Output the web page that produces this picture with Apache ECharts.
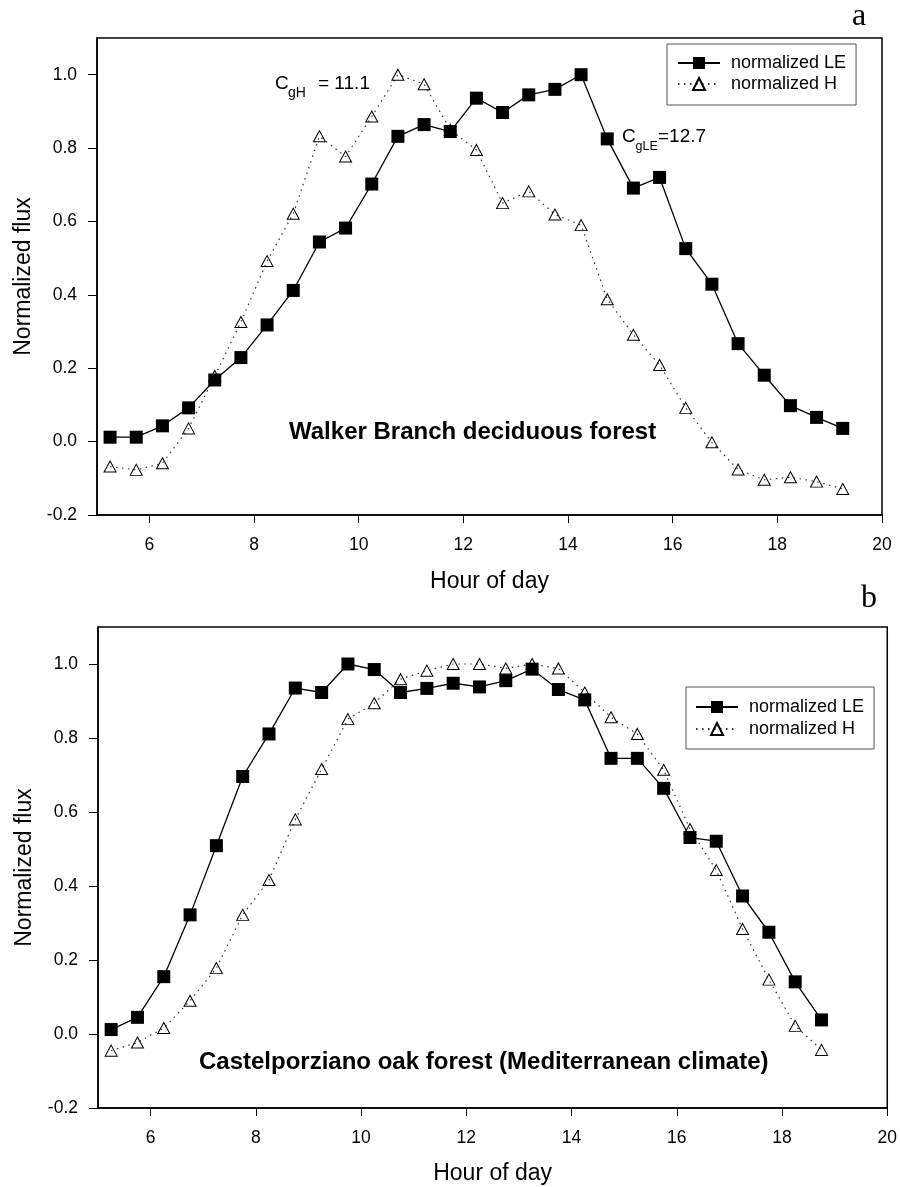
<!DOCTYPE html>
<html>
<head>
<meta charset="utf-8">
<script src="https://cdn.jsdelivr.net/npm/echarts@6/dist/echarts.min.js"></script>
<style>
html,body{margin:0;padding:0;background:#fff;}
#chart{width:900px;height:1187px;}
</style>
</head>
<body>
<div id="chart"></div>
<script>
// Panel a: Walker Branch deciduous forest
const hoursA = [5.25,5.75,6.25,6.75,7.25,7.75,8.25,8.75,9.25,9.75,10.25,10.75,11.25,11.75,12.25,12.75,13.25,13.75,14.25,14.75,15.25,15.75,16.25,16.75,17.25,17.75,18.25,18.75,19.25];
const leA = [0.012,0.012,0.043,0.092,0.168,0.229,0.318,0.412,0.544,0.582,0.702,0.832,0.864,0.845,0.936,0.897,0.945,0.960,1.0,0.825,0.691,0.720,0.526,0.429,0.267,0.181,0.098,0.066,0.036];
const hA = [-0.068,-0.077,-0.059,0.036,0.179,0.326,0.492,0.621,0.832,0.777,0.886,1.0,0.974,0.85,0.795,0.650,0.682,0.619,0.590,0.388,0.291,0.209,0.092,-0.002,-0.076,-0.104,-0.097,-0.109,-0.129];

// Panel b: Castelporziano oak forest
const hoursB = [5.25,5.75,6.25,6.75,7.25,7.75,8.25,8.75,9.25,9.75,10.25,10.75,11.25,11.75,12.25,12.75,13.25,13.75,14.25,14.75,15.25,15.75,16.25,16.75,17.25,17.75,18.25,18.75];
const leB = [0.012,0.045,0.155,0.322,0.509,0.696,0.811,0.935,0.923,1.0,0.985,0.923,0.934,0.948,0.938,0.955,0.986,0.931,0.903,0.745,0.745,0.664,0.531,0.521,0.373,0.275,0.141,0.038];
const hB = [-0.045,-0.023,0.016,0.090,0.178,0.322,0.416,0.580,0.716,0.851,0.894,0.959,0.982,1.0,1.0,0.988,1.0,0.988,0.923,0.856,0.811,0.714,0.554,0.443,0.284,0.147,0.022,-0.043];

const xTicks = [6,8,10,12,14,16,18,20];
const yTicks = [-0.2,0.0,0.2,0.4,0.6,0.8,1.0];
const nameLE = 'normalized LE';
const nameH = 'normalized H';
const xName = 'Hour of day';
const yName = 'Normalized flux';

const SANS = '"Liberation Sans", Arial, Helvetica, sans-serif';
const SERIF = '"Liberation Serif", "Times New Roman", serif';

function pairs(xs, ys){ return xs.map((x,i)=>[x, ys[i]]); }

function xAxis(gi, gap){
  return {
    gridIndex: gi, type:'value', min:5, max:20,
    name: xName, nameLocation:'middle', nameGap: gap,
    nameTextStyle:{fontSize:23, color:'#000', fontFamily:SANS},
    axisLine:{show:true, onZero:false, lineStyle:{color:'#000', width:1.5}},
    axisTick:{show:true, inside:false, length:8, customValues:xTicks, lineStyle:{color:'#000', width:1}},
    axisLabel:{customValues:xTicks, margin:21, fontSize:17.5, color:'#000', fontFamily:SANS},
    splitLine:{show:false}
  };
}
function yAxis(gi){
  return {
    gridIndex: gi, type:'value', min:-0.2, max:1.1,
    name: yName, nameLocation:'middle', nameGap: 62,
    nameTextStyle:{fontSize:23, color:'#000', fontFamily:SANS},
    axisLine:{show:true, onZero:false, lineStyle:{color:'#000', width:1.5}},
    axisTick:{show:true, inside:false, length:9, customValues:yTicks, lineStyle:{color:'#000', width:1}},
    axisLabel:{customValues:yTicks, margin:20, fontSize:17.5, color:'#000', fontFamily:SANS,
      formatter:(v)=>Number(v).toFixed(1)},
    splitLine:{show:false}
  };
}
function leSeries(gi, xs, ys){
  return {
    name: nameLE, type:'line', xAxisIndex:gi, yAxisIndex:gi, z:4,
    data: pairs(xs, ys), symbol:'rect', symbolSize:13,
    itemStyle:{color:'#000'}, lineStyle:{color:'#000', width:1.3},
    emphasis:{disabled:true}
  };
}
function hSeries(gi, xs, ys){
  return {
    name: nameH, type:'line', xAxisIndex:gi, yAxisIndex:gi, z:3,
    data: pairs(xs, ys), symbol:'triangle', symbolSize:[12,11],
    itemStyle:{color:'rgba(0,0,0,0)', borderColor:'#000', borderWidth:1},
    lineStyle:{color:'#333', width:1.2, type:[1.5,4.5]},
    emphasis:{disabled:true}
  };
}
function legend(left, top, padding, gap){
  return {
    orient:'vertical', left:left, top:top, data:[nameLE, nameH],
    itemWidth:42, itemHeight:15, itemGap:gap, padding:padding,
    borderColor:'#555', borderWidth:1, backgroundColor:'#fff',
    selectedMode:false,
    textStyle:{fontSize:18, color:'#000', fontFamily:SANS, padding:[0,0,0,6]}
  };
}
function txt(x, y, s, size, opts){
  return Object.assign({type:'text', x:x, y:y, z:100, style:Object.assign({
    text:s, fontSize:size, fontFamily:SANS, fill:'#000', textAlign:'left', textVerticalAlign:'middle'
  }, opts||{})});
}

const chart = echarts.init(document.getElementById('chart'), null, {renderer:'canvas'});
chart.setOption({
  animation:false,
  backgroundColor:'#fff',
  grid:[
    {left:97, top:38, width:785, height:477, show:true, borderColor:'#000', borderWidth:1.5, backgroundColor:'transparent'},
    {left:98, top:627, width:791, height:481, show:true, borderColor:'#000', borderWidth:1.5, backgroundColor:'transparent'}
  ],
  xAxis:[xAxis(0,55), xAxis(1,54)],
  yAxis:[yAxis(0), yAxis(1)],
  legend:[legend(667,44,[10,10,12,10],3), legend(686,687,[11,10,11,9],4)],
  series:[hSeries(0,hoursA,hA), leSeries(0,hoursA,leA), hSeries(1,hoursB,hB), leSeries(1,hoursB,leB)],
  graphic:{elements:[
    txt(852, 17, 'a', 32, {fontFamily:SERIF}),
    txt(861, 599, 'b', 32, {fontFamily:SERIF}),
    txt(275, 84, 'C', 19),
    txt(288, 93.5, 'gH', 14),
    txt(318, 84, '= 11.1', 19),
    txt(622, 136.7, 'C', 19),
    txt(635.5, 146.5, 'gLE', 12.5),
    txt(658, 136.7, '=12.7', 19),
    txt(289, 432.7, 'Walker Branch deciduous forest', 24, {fontWeight:'bold'}),
    txt(199, 1062.7, 'Castelporziano oak forest (Mediterranean climate)', 24, {fontWeight:'bold'})
  ]}
});
</script>
</body>
</html>
